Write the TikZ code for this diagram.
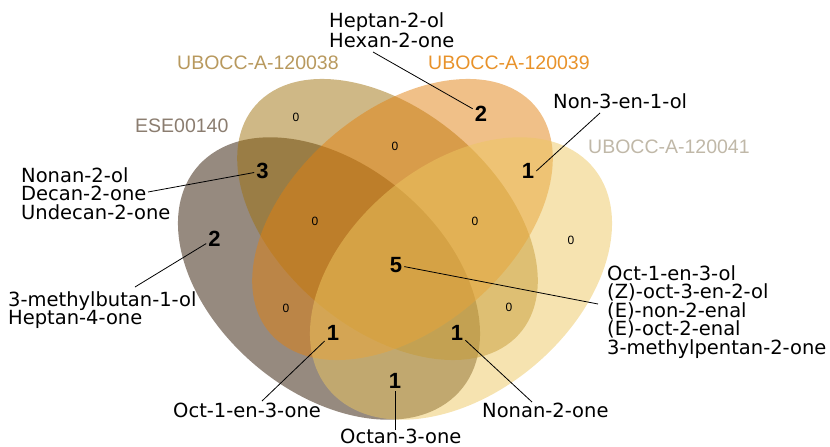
\documentclass[tikz,border=0pt]{standalone}
\usepackage{fontspec}
\usepackage{xcolor}
\usepackage{tikz}
\newfontfamily\cmpdfont{DejaVu Sans}
\newfontfamily\setfont{Liberation Sans}

\definecolor{eseFill}{RGB}{45,21,0}
\definecolor{ubA38Fill}{RGB}{159,113,13}
\definecolor{ubA39Fill}{RGB}{225,129,17}
\definecolor{ubA41Fill}{RGB}{237,199,97}
\definecolor{eseText}{RGB}{139,125,112}
\definecolor{ubA38Text}{RGB}{184,153,94}
\definecolor{ubA39Text}{RGB}{232,146,42}
\definecolor{ubA41Text}{RGB}{192,184,168}

\begin{document}
\begin{tikzpicture}[x=1pt, y=-1pt,
        % Shape Styles
        venn/.style={fill opacity=0.5},
        % Text Styles
        cmpd/.style={font=\cmpdfont\fontsize{19.5}{18.5}\selectfont, align=left, inner sep=0pt},
        setname/.style={font=\setfont\fontsize{19.5}{22}\selectfont, inner sep=0pt, anchor=base west},
        count/.style={font=\setfont\bfseries\fontsize{22}{24}\selectfont, inner sep=2pt},
        zero/.style={font=\setfont\fontsize{12}{14}\selectfont, inner sep=0pt},
        leader/.style={draw=black, line width=0.8pt}
    ]
    \useasboundingbox (0,0) rectangle (830,447);

    % --- 1. Ellipses (drawn bottom to top) ---
    \begin{scope}[shift={(329,278.5)}, yscale=0.935]
        \fill[venn, eseFill, rotate=-45] (0,0) ellipse [x radius=178pt, y radius=118pt];
    \end{scope}
    \begin{scope}[shift={(387.5,219.5)}, yscale=0.935]
        \fill[venn, ubA38Fill, rotate=-45] (0,0) ellipse [x radius=180pt, y radius=113pt];
    \end{scope}
    \begin{scope}[shift={(402.5,219.5)}, yscale=0.935]
        \fill[venn, ubA39Fill, rotate=45] (0,0) ellipse [x radius=180pt, y radius=113pt];
    \end{scope}
    \begin{scope}[shift={(461,278.5)}, yscale=0.935]
        \fill[venn, ubA41Fill, rotate=45] (0,0) ellipse [x radius=178pt, y radius=118pt];
    \end{scope}

    % --- 2. Set Names ---
    \node[setname, text=ubA38Text] (sB) at (177,69) {UBOCC-A-120038};
    \node[setname, text=ubA39Text] (sC) at (428,69) {UBOCC-A-120039};
    \node[setname, text=eseText] (sA) at (135,132) {ESE00140};
    \node[setname, text=ubA41Text] (sD) at (588,153) {UBOCC-A-120041};

    % --- 3. Region Counts ---
    \node[zero] (zB) at (296,117) {0};
    \node[zero] (zBC) at (395,146) {0};
    \node[zero] (zABC) at (315,221) {0};
    \node[zero] (zBCD) at (475,221) {0};
    \node[zero] (zD) at (571,240) {0};
    \node[zero] (zAC) at (286,308) {0};
    \node[zero] (zBD) at (509,307) {0};

    \node[count] (nAB) at (262.5,171) {3};
    \node[count] (nC) at (481,113.5) {2};
    \node[count] (nCD) at (528,171) {1};
    \node[count] (nA) at (214.5,238.5) {2};
    \node[count] (nAll) at (396,265) {5};
    \node[count] (nACD) at (333,333) {1};
    \node[count] (nABD) at (457,332.5) {1};
    \node[count] (nAD) at (395,381) {1};

    % --- 4. Compound Lists ---
    \node[cmpd, anchor=north west] (tC) at (329,12.7) {Heptan-2-ol\\Hexan-2-one};
    \node[cmpd, anchor=base west] (tCD) at (553,108) {Non-3-en-1-ol};
    \node[cmpd, anchor=north west] (tAB) at (21,167) {Nonan-2-ol\\Decan-2-one\\Undecan-2-one};
    \node[cmpd, anchor=north west] (tA) at (8,291) {3-methylbutan-1-ol\\Heptan-4-one};
    \node[cmpd, anchor=north west] (tAll) at (607,265) {Oct-1-en-3-ol\\(Z)-oct-3-en-2-ol\\(E)-non-2-enal\\(E)-oct-2-enal\\3-methylpentan-2-one};
    \node[cmpd, anchor=base west] (tACD) at (173,417) {Oct-1-en-3-one};
    \node[cmpd, anchor=base west] (tAD) at (340,443) {Octan-3-one};
    \node[cmpd, anchor=base west] (tABD) at (482,417) {Nonan-2-one};

    % --- 5. Leader Lines ---
    \coordinate (lC) at (373,52);
    \coordinate (lCD) at (600,113);
    \coordinate (lAB) at (148,192);
    \coordinate (lA) at (135,287);
    \coordinate (lAll) at (598,304);
    \coordinate (lACD) at (262,401);
    \coordinate (lAD) at (395,430);
    \coordinate (lABD) at (532,402);

    \draw[leader] (lC) -- (nC);
    \draw[leader] (lCD) -- (nCD.east);
    \draw[leader] (lAB) -- (nAB);
    \draw[leader] (lA) -- (nA);
    \draw[leader] (nAll) -- (lAll);
    \draw[leader] (lACD) -- (nACD);
    \draw[leader] (lAD) -- (nAD);
    \draw[leader] (lABD) -- (nABD);
\end{tikzpicture}
\end{document}
